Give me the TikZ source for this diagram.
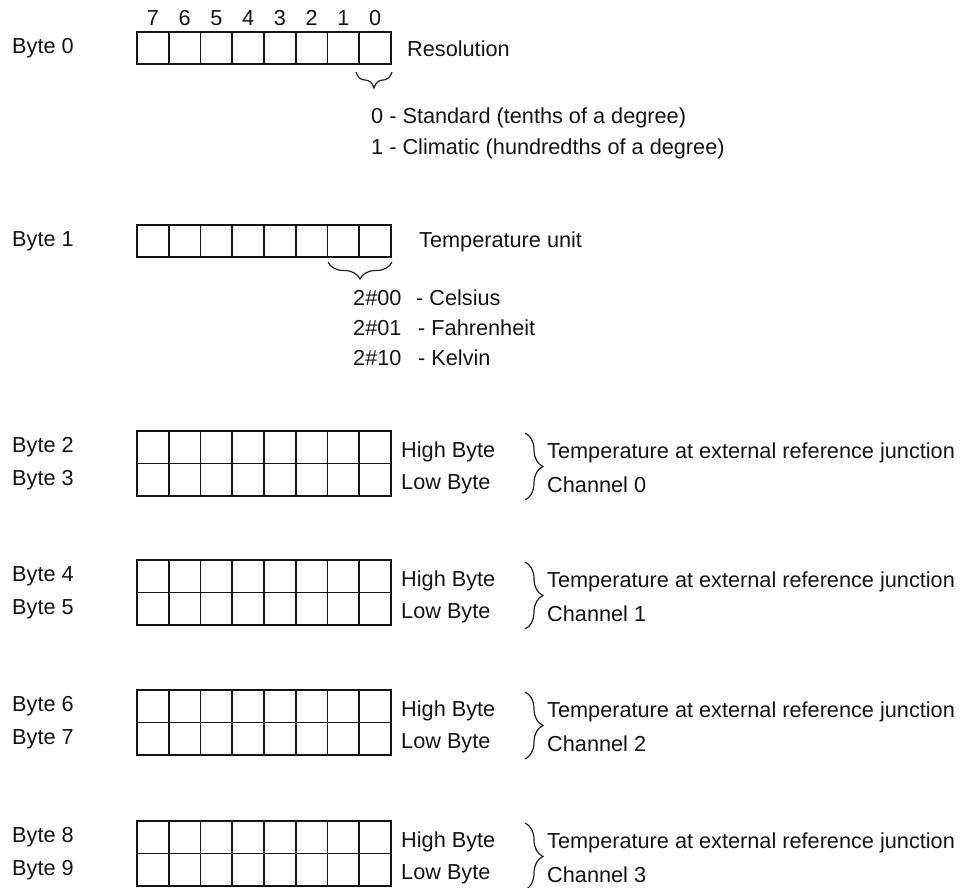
\documentclass[tikz,border=0pt]{standalone}
\usepackage{fontspec}
\setmainfont{Liberation Sans}
\usetikzlibrary{decorations.pathreplacing}
\begin{document}
\begin{tikzpicture}[x=1pt,y=-1pt,
  txt/.style={anchor=west,inner sep=0pt,text height=15.5pt,text depth=0pt,font=\fontsize{21.7}{26}\selectfont,text=black!92},
  num/.style={txt,anchor=center},
  cell/.style={draw=black!92,line width=1.8pt},
  brc/.style={draw=black!88,line width=1.2pt,decorate,decoration={brace,amplitude=#1}},
]
\useasboundingbox (0,0) rectangle (962,888);

% ---- Byte 0
\node[txt] (b0) at (12,46) {Byte 0};
\foreach \i in {0,...,7}
  \draw[cell] ({137+\i*31.75},32) rectangle ++(31.75,32);
\foreach \b in {0,...,7}
  \node[num] (bit\b) at ({137+(7.5-\b)*31.75},18) {\b};
\node[txt] (res) at (407,49) {Resolution};
\coordinate (r0a) at (392,72);
\coordinate (r0b) at (356,72);
\draw[brc=16] (r0a) -- (r0b);
\node[txt] (std) at (371,116) {0 - Standard (tenths of a degree)};
\node[txt] (cli) at (371,147) {1 - Climatic (hundredths of a degree)};

% ---- Byte 1
\node[txt] (b1) at (12,239) {Byte 1};
\foreach \i in {0,...,7}
  \draw[cell] ({137+\i*31.75},225) rectangle ++(31.75,32);
\node[txt] (tu) at (419,240) {Temperature unit};
\coordinate (r1a) at (392,262);
\coordinate (r1b) at (328,262);
\draw[brc=17] (r1a) -- (r1b);
\node[txt] (c00) at (353,298) {2\#00};
\node[txt] (c01) at (353,328) {2\#01};
\node[txt] (c10) at (353,358) {2\#10};
\node[txt] (cel) at (416,298) {- Celsius};
\node[txt] (fah) at (418,328) {- Fahrenheit};
\node[txt] (kel) at (418,358) {- Kelvin};

% ---- Byte 2..9
\foreach \t [count=\g] in {431,560,690,821}{
  \pgfmathtruncatemacro{\hi}{2*\g}
  \pgfmathtruncatemacro{\lo}{2*\g+1}
  \pgfmathtruncatemacro{\ch}{\g-1}
  \node[txt] (bl\hi) at (12,\t+14) {Byte \hi};
  \node[txt] (bl\lo) at (12,\t+47) {Byte \lo};
  \foreach \i in {0,...,7}{
    \draw[cell] ({137+\i*31.75},\t) rectangle ++(31.75,32.5);
    \draw[cell] ({137+\i*31.75},\t+32.5) rectangle ++(31.75,32.5);
  }
  \node[txt] (hb\g) at (401,\t+18.5) {High Byte};
  \node[txt] (lb\g) at (401,\t+51) {Low Byte};
  \coordinate (ba\g) at (525,\t+2);
  \coordinate (bb\g) at (525,\t+69);
  \draw[brc=18] (ba\g) -- (bb\g);
  \node[txt] (tj\g) at (547,\t+20) {Temperature at external reference junction};
  \node[txt] (cn\g) at (547,\t+54) {Channel \ch};
}
\end{tikzpicture}
\end{document}
